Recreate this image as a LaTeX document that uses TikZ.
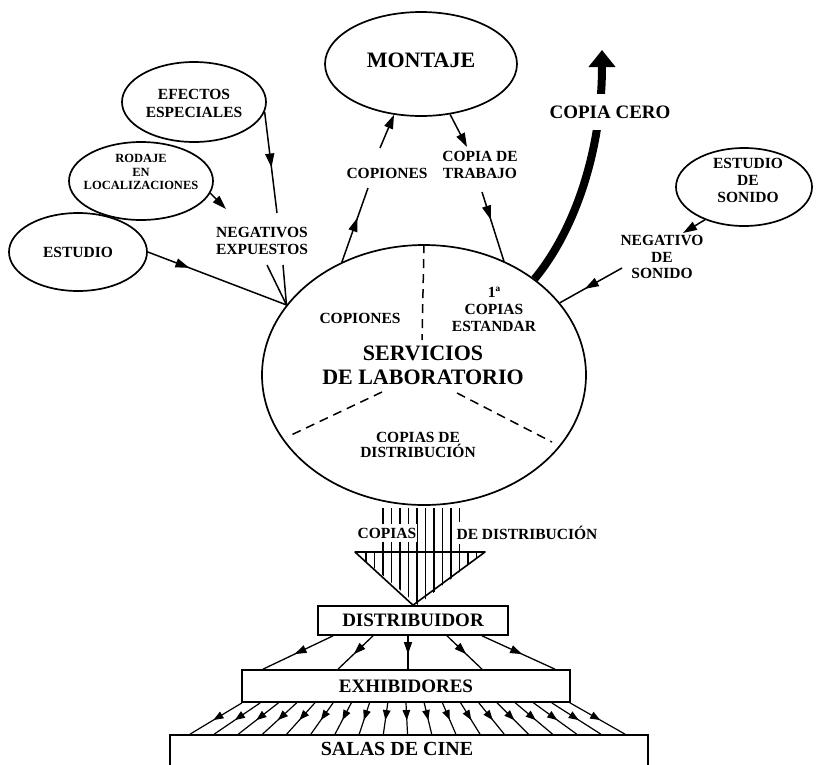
\documentclass[tikz,border=0pt]{standalone}
\usepackage{fontspec}
\setmainfont{Liberation Serif}
\usetikzlibrary{arrows.meta,decorations.markings,shapes.geometric,calc}
\begin{document}
\begin{tikzpicture}[x=1pt,y=-1pt,
  ell/.style={draw, ellipse, line width=1.7pt, inner sep=0pt},
  box/.style={draw, line width=1.7pt, inner sep=0pt},
  lbl/.style={align=center, inner sep=1pt},
  tA/.style={lbl, font=\bfseries\fontsize{22}{24}\selectfont},
  tB/.style={lbl, font=\bfseries\fontsize{19}{21}\selectfont},
  tC/.style={lbl, font=\bfseries\fontsize{15.5}{16.5}\selectfont},
  tD/.style={lbl, font=\bfseries\fontsize{12.5}{13.5}\selectfont},
  con/.style={line width=1.5pt},
  midarrow/.style={con, postaction={decorate}, decoration={markings, mark=at position #1 with {\arrow{Triangle[length=14pt,width=9pt]}}}},
  midarrow/.default=0.5,
  endarrow/.style={con, -{Triangle[length=14pt,width=9pt]}},
  fanarrow/.style={line width=1.3pt, postaction={decorate}, decoration={markings, mark=at position 0.55 with {\arrow{Triangle[length=12pt,width=8pt]}}}},
  smallarrow/.style={line width=1.2pt, postaction={decorate}, decoration={markings, mark=at position 0.55 with {\arrow{Triangle[length=10pt,width=7.5pt]}}}},
  dashln/.style={line width=1.5pt, dash pattern=on 9pt off 6pt}
]
\useasboundingbox (0,0) rectangle (816,764);
\clip (0,0) rectangle (816,764);

% ellipses
\node[ell, minimum width=192, minimum height=104] (mont) at (421,64) {};
\node[ell, minimum width=144, minimum height=80] (efe) at (194,102) {};
\node[ell, minimum width=144, minimum height=78] (rod) at (141,181) {};
\node[ell, minimum width=138, minimum height=78] (est) at (78,252) {};
\node[ell, minimum width=136, minimum height=78] (son) at (744,187) {};
\node[ell, minimum width=324, minimum height=260] (lab) at (424,375) {};

% copia cero (drawn before its label)
\coordinate (ceroTip) at (602,50);
\draw[line width=8pt, -{Triangle[length=17pt,width=26pt]}] (lab.41) .. controls (575,230) and (602,150) .. (ceroTip);

% texts
\node[tA] (montT) at (421,60) {MONTAJE};
\node[tC, font=\bfseries\fontsize{15.5}{18}\selectfont] (efeT) at (194,103) {EFECTOS\\ESPECIALES};
\node[tD] (rodT) at (141,172) {RODAJE\\EN\\LOCALIZACIONES};
\node[tC] (estT) at (78,252) {ESTUDIO};
\node[tC] (negT) at (262,241) {NEGATIVOS\\EXPUESTOS};
\node[tC] (copT) at (387,173) {COPIONES};
\node[tC] (trabT) at (480,165) {COPIA DE\\TRABAJO};
\node[tB, fill=white, inner ysep=12pt, inner xsep=3pt] (ceroT) at (610,112) {COPIA CERO};
\node[tC, font=\bfseries\fontsize{15.5}{17}\selectfont] (sonT) at (748,180) {ESTUDIO\\DE\\SONIDO};
\node[tC] (nsonT) at (662,257) {NEGATIVO\\DE\\SONIDO};
\node[tC] (copI) at (360,318) {COPIONES};
\node[tC, font=\bfseries\fontsize{15.5}{17}\selectfont] (std) at (494,309) {1ª\\COPIAS\\ESTANDAR};
\node[tA] (serv) at (423,365) {SERVICIOS\\DE LABORATORIO};
\node[tC, font=\bfseries\fontsize{15.5}{15.5}\selectfont] (dist) at (418,445) {COPIAS DE\\DISTRIBUCIÓN};

% dashed dividers
\coordinate (dv) at (422,340);
\coordinate (dl1) at (382,392);
\coordinate (dl2) at (287,437);
\coordinate (dr1) at (457,393);
\coordinate (dr2) at (552,442);
\draw[dashln] (lab.90) -- (dv);
\draw[dashln] (dl1) -- (dl2);
\draw[dashln] (dr1) -- (dr2);

% inputs on the left
\coordinate (efeEnd) at (277,213);
\coordinate (rodEnd) at (226,209);
\coordinate (n1) at (267,265);
\coordinate (n2) at (283,265);
\draw[midarrow=0.55] (efe.-8) -- (efeEnd);
\draw[endarrow] (rod.-10) -- (rodEnd);
\draw[midarrow=0.3] (est.east) -- (lab.153);
\draw[con] (n1) -- (lab.153);
\draw[con] (n2) -- (lab.153);

% montaje
\coordinate (copUp1) at (368,188);
\coordinate (copUp2) at (380,148);
\draw[midarrow=0.6] (lab.126) -- (copUp1);
\draw[endarrow] (copUp2) -- (mont.-118);
\coordinate (trab1) at (467,147);
\coordinate (trab2) at (482,192);
\draw[endarrow] (mont.-60) -- (trab1);
\draw[midarrow=0.4] (trab2) -- (lab.55);

% sonido
\coordinate (sonEnd) at (683,233);
\coordinate (nsonStart) at (622,268);
\draw[endarrow] (son.-140) -- (sonEnd);
\draw[midarrow=0.6] (nsonStart) -- (lab.28);

% boxes
\node[box, minimum width=190, minimum height=29, font=\bfseries\fontsize{19}{21}\selectfont] (dis) at (413,620.5) {DISTRIBUIDOR};
\node[box, minimum width=328, minimum height=32, font=\bfseries\fontsize{19}{21}\selectfont] (exh) at (406,686) {EXHIBIDORES};
\node[box, minimum width=478, minimum height=70] (sal) at (409,770) {};
\node[lbl, font=\bfseries\fontsize{20}{22}\selectfont] (salT) at (397,749) {SALAS DE CINE};

% hatched arrow
\begin{scope}
\clip (382,508) rectangle (462,552) (355,552) -- (485,552) -- (418,605) -- cycle;
\foreach \k in {0,...,13} \draw[line width=1.8pt] ({366+8.5*\k},500) -- ({366+8.5*\k},610);
\end{scope}
\draw[line width=1.6pt, line join=round] (355,552) -- (485,552) -- (dis.north) -- cycle;
\node[tC, fill=white, inner ysep=4pt] (copA) at (387,533) {COPIAS};
\node[tC, fill=white, inner ysep=4pt] (deA) at (527,533) {DE DISTRIBUCIÓN};

% fan arrows
\foreach \a/\b in {333/263, 373/338, 408/408, 447/482, 482/555}
  \draw[fanarrow] (\a,0 |- dis.south) -- (\b,0 |- exh.north);
\foreach \i in {0,...,18}
  \draw[smallarrow] ({242+\i*18.22},0 |- exh.south) -- ({190+\i*24.17},0 |- sal.north);
\end{tikzpicture}
\end{document}
